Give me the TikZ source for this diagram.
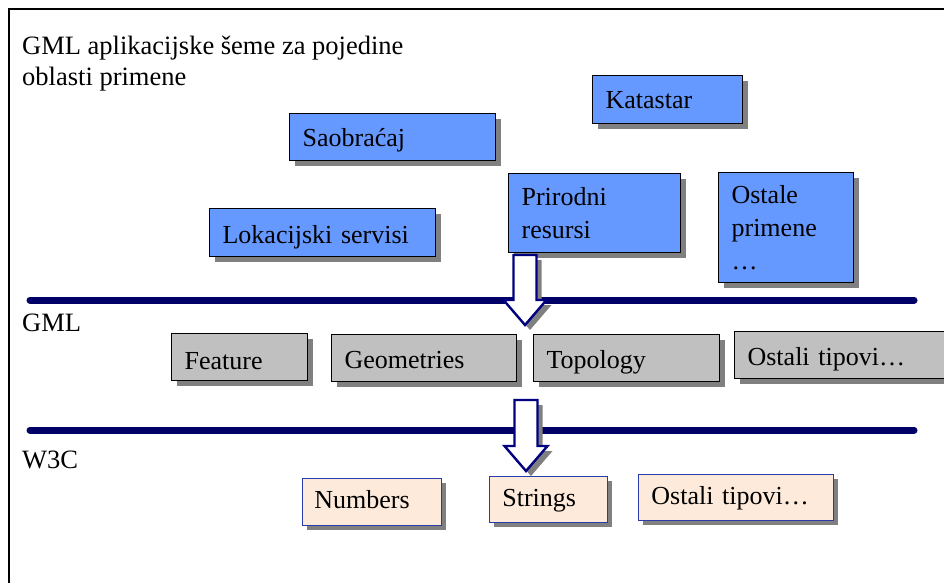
\documentclass[tikz,border=0pt]{standalone}
\usepackage{fontspec}
\setmainfont{Liberation Serif}
\usetikzlibrary{shadows}
\definecolor{bluefill}{RGB}{102,153,255}
\definecolor{grayfill}{RGB}{192,192,192}
\definecolor{peachfill}{RGB}{253,234,218}
\definecolor{navyline}{RGB}{0,0,102}
\definecolor{arrowline}{RGB}{0,0,128}
\definecolor{peachline}{RGB}{40,60,170}
\definecolor{shadowgray}{RGB}{128,128,128}
\tikzset{
  txt/.style={font=\fontsize{26.5}{31}\selectfont, inner sep=0pt, align=left},
  boxbase/.style={rectangle, anchor=north west, inner xsep=13pt, inner ysep=0pt,
    align=left, font=\fontsize{26}{33}\selectfont},
  bshadow/.style={general shadow={fill=shadowgray, shadow xshift=5pt, shadow yshift=-5pt}},
  bluebox/.style={boxbase, bshadow, draw=black, line width=1.2pt, fill=bluefill},
  bluebox1/.style={bluebox, text height=24pt, text depth=6pt},
  graybox/.style={boxbase, bshadow, draw=black, line width=1.2pt, fill=grayfill,
    text height=26pt, text depth=5pt},
  peachbox/.style={boxbase, inner xsep=13pt, draw=peachline, line width=0.8pt, fill=peachfill,
    text height=22pt, text depth=8pt,
    general shadow={fill=shadowgray, shadow xshift=4.5pt, shadow yshift=-4.5pt}},
  layerline/.style={draw=navyline, line width=7pt, line cap=round},
  frameline/.style={draw=black, line width=1.6pt},
  pics/blockarrow/.style={code={
    \fill[shadowgray] (-6.5,5) -- ++(23,0) -- ++(0,#1-25) -- ++(10,0) -- ++(-21.5,25)
      -- ++(-21.5,-25) -- ++(10,0) -- cycle;
    \draw[draw=arrowline, line width=2.4pt, fill=white, line join=miter]
      (-11.5,0) -- ++(23,0) -- ++(0,#1-25) -- ++(10,0) -- ++(-21.5,25)
      -- ++(-21.5,-25) -- ++(10,0) -- cycle;
  }}
}
\begin{document}
\begin{tikzpicture}[x=1pt,y=-1pt]
\useasboundingbox (0,0) rectangle (944,582);
\clip (0,0) rectangle (944,582);
\fill[white] (0,0) rectangle (944,582);

% frame (open on right and bottom)
\coordinate (fTL) at (9,9);
\coordinate (fTR) at (950,9);
\coordinate (fBL) at (9,590);
\draw[frameline] (fTR) -- (fTL) -- (fBL);

% title
\node[txt, anchor=north west] (title) at (22,36)
  {GML aplikacijske šeme za pojedine\\oblasti primene};

% application schema boxes
\node[bluebox1, text width=124pt, minimum height=48pt] (kat) at (592,75) {Katastar};
\node[bluebox1, text width=180pt, minimum height=47pt] (sao) at (289,113) {Saobraćaj};
\node[bluebox1, text width=200pt, minimum height=48pt, text height=26pt, text depth=5pt] (lok) at (209,208) {Lokacijski servisi};
\node[bluebox, text width=146pt, minimum height=79pt] (pri) at (508,173) {Prirodni\\resursi};
\node[bluebox, text width=109pt, minimum height=110pt] (ost) at (718,172) {Ostale\\primene\\…};

% layer lines
\coordinate (gA) at (30,300);
\coordinate (gB) at (914,300);
\coordinate (wA) at (30,430);
\coordinate (wB) at (914,430);
\draw[layerline] (gA) -- (gB);
\draw[layerline] (wA) -- (wB);

% layer labels
\node[txt, anchor=base west] (gml) at (22,331) {GML};
\node[txt, anchor=base west] (w3c) at (22,468) {W3C};

% GML types
\node[graybox, text width=110pt, minimum height=47pt, text height=29pt] (fea) at (171,333) {Feature};
\node[graybox, text width=159pt, minimum height=47pt] (geo) at (331,334) {Geometries};
\node[graybox, text width=160pt, minimum height=47pt] (top) at (533,334) {Topology};
\node[graybox, text width=204pt, minimum height=47pt] (ogt) at (734,331) {Ostali tipovi…};

% W3C types
\node[peachbox, text width=115pt, minimum height=47pt, inner xsep=12pt] (num) at (302,478) {Numbers};
\node[peachbox, text width=92pt, minimum height=46pt] (str) at (489,476) {Strings};
\node[peachbox, text width=169pt, minimum height=46pt] (owt) at (638,474) {Ostali tipovi…};

% block arrows
\coordinate (a1) at (525,255);
\coordinate (a2) at (526,400);
\pic at (a1) {blockarrow=70};
\pic at (a2) {blockarrow=71};
\end{tikzpicture}
\end{document}
